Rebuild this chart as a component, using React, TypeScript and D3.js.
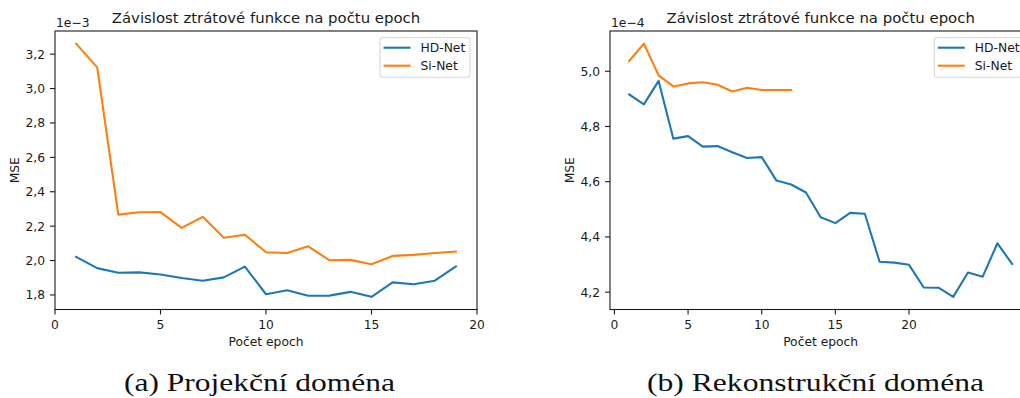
import React from "react";
import * as d3 from "d3";

// Epoch indices
const epochsProj = d3.range(1, 20);
const epochsRecoSi = d3.range(1, 13);
const epochsRecoHD = d3.range(1, 28);

// Projection domain MSE (×1e-3)
const projHD = [2.021, 1.956, 1.929, 1.931, 1.919, 1.899, 1.883, 1.902, 1.965, 1.804, 1.827, 1.795, 1.796, 1.818, 1.789, 1.873, 1.862, 1.883, 1.965];
const projSi = [3.261, 3.123, 2.267, 2.281, 2.282, 2.19, 2.254, 2.133, 2.15, 2.048, 2.044, 2.083, 2.002, 2.004, 1.979, 2.027, 2.033, 2.044, 2.052];

// Reconstruction domain MSE (×1e-4)
const recoHD = [4.916, 4.88, 4.965, 4.756, 4.765, 4.727, 4.729, 4.707, 4.686, 4.689, 4.604, 4.59, 4.561, 4.471, 4.45, 4.487, 4.484, 4.31, 4.307, 4.299, 4.217, 4.216, 4.183, 4.271, 4.256, 4.377, 4.302];
const recoSi = [5.037, 5.1, 4.985, 4.945, 4.956, 4.96, 4.951, 4.927, 4.94, 4.932, 4.932, 4.932];

const seriesNames = ["HD-Net", "Si-Net"];
const colors = ["#1f77b4", "#ff7f0e"];

const projYTicks = [1.8, 2.0, 2.2, 2.4, 2.6, 2.8, 3.0, 3.2];
const recoYTicks = [4.2, 4.4, 4.6, 4.8, 5.0];
const xTicks = [0, 5, 10, 15, 20];

const title = "Závislost ztrátové funkce na počtu epoch";
const xLabel = "Počet epoch";
const yLabel = "MSE";
const captions = ["(a) Projekční doména", "(b) Rekonstrukční doména"];

const SANS = "'DejaVu Sans', sans-serif";
const INK = "#1a1a1a";
const fmt = (v: number) => v.toFixed(1).replace(".", ",");

type Series = { xs: number[]; ys: number[] };

// Matplotlib-style autoscale: data extent plus 5% on each side
function padDomain(vals: number[]): [number, number] {
  const [lo, hi] = d3.extent(vals) as [number, number];
  const m = (hi - lo) * 0.05;
  return [lo - m, hi + m];
}

function Panel(props: {
  left: number;
  right: number;
  top: number;
  bottom: number;
  xDomain: [number, number];
  series: Series[];
  yTicks: number[];
  exponent: string;
  legendRight: number;
}) {
  const { left, right, top, bottom, xDomain, series, yTicks, exponent, legendRight } = props;
  const x = d3.scaleLinear().domain(xDomain).range([left, right]);
  const y = d3.scaleLinear().domain(padDomain(series.flatMap((s) => s.ys))).range([bottom, top]);
  const line = d3
    .line<[number, number]>()
    .x((d) => x(d[0]))
    .y((d) => y(d[1]));
  const cx = (left + right) / 2;
  const cy = (top + bottom) / 2;
  const tickLen = 5;
  const fs = 12.3;
  const lgLeft = legendRight - 90;
  return (
    <g>
      {series.map((s, i) => (
        <path
          key={i}
          d={line(s.xs.map((xv, j) => [xv, s.ys[j]] as [number, number])) || ""}
          fill="none"
          stroke={colors[i]}
          strokeWidth={2.1}
          strokeLinejoin="round"
          strokeLinecap="square"
        />
      ))}
      <rect x={left} y={top} width={right - left} height={bottom - top} fill="none" stroke={INK} strokeWidth={1.1} />
      {yTicks.map((t) => (
        <g key={t}>
          <line x1={left - tickLen} x2={left} y1={y(t)} y2={y(t)} stroke={INK} strokeWidth={1.1} />
          <text x={left - tickLen - 5} y={y(t)} dy="0.36em" textAnchor="end" fontFamily={SANS} fontSize={fs} fill={INK}>
            {fmt(t)}
          </text>
        </g>
      ))}
      {xTicks.map((t) => (
        <g key={t}>
          <line x1={x(t)} x2={x(t)} y1={bottom} y2={bottom + tickLen} stroke={INK} strokeWidth={1.1} />
          <text x={x(t)} y={bottom + 19} textAnchor="middle" fontFamily={SANS} fontSize={fs} fill={INK}>
            {t}
          </text>
        </g>
      ))}
      <text x={left + 1} y={top - 4.5} fontFamily={SANS} fontSize={fs} fill={INK}>
        {exponent}
      </text>
      <text x={cx} y={top - 7.7} textAnchor="middle" fontFamily={SANS} fontSize={14.9} fill={INK}>
        {title}
      </text>
      <text x={cx} y={bottom + 36} textAnchor="middle" fontFamily={SANS} fontSize={fs} fill={INK}>
        {xLabel}
      </text>
      <text
        transform={`translate(${left - 36},${cy}) rotate(-90)`}
        textAnchor="middle"
        fontFamily={SANS}
        fontSize={fs}
        fill={INK}
      >
        {yLabel}
      </text>
      <g>
        <rect x={lgLeft} y={top + 6.7} width={90} height={39.6} rx={2.5} fill="white" fillOpacity={0.8} stroke="#d6d6d6" strokeWidth={1.1} />
        {seriesNames.map((n, i) => (
          <g key={n}>
            <line x1={lgLeft + 3.5} x2={lgLeft + 30.5} y1={top + 16.7 + i * 18} y2={top + 16.7 + i * 18} stroke={colors[i]} strokeWidth={2.1} />
            <text x={lgLeft + 40.5} y={top + 16.7 + i * 18} dy="0.36em" fontFamily={SANS} fontSize={fs} fill={INK}>
              {n}
            </text>
          </g>
        ))}
      </g>
    </g>
  );
}

export default function App() {
  const top = 31;
  const bottom = 309.5;
  return (
    <svg
      width={1020}
      height={398}
      viewBox="0 0 1020 398"
      style={{ position: "absolute", left: 0, top: 0, background: "white" }}
    >
      <rect width={1020} height={398} fill="white" />
      <Panel
        left={55}
        right={477}
        top={top}
        bottom={bottom}
        xDomain={[0, 20]}
        series={[
          { xs: epochsProj, ys: projHD },
          { xs: epochsProj, ys: projSi },
        ]}
        yTicks={projYTicks}
        exponent="1e−3"
        legendRight={470}
      />
      <Panel
        left={610}
        right={1031.3}
        top={top}
        bottom={bottom}
        xDomain={[-0.3, 28.3]}
        series={[
          { xs: epochsRecoHD, ys: recoHD },
          { xs: epochsRecoSi, ys: recoSi },
        ]}
        yTicks={recoYTicks}
        exponent="1e−4"
        legendRight={1024.3}
      />
      <text x={259.5} y={391} textAnchor="middle" fontFamily="'Liberation Serif', serif" fontSize={26} textLength={271} lengthAdjust="spacingAndGlyphs" fill="#111">
        {captions[0]}
      </text>
      <text x={815.5} y={391} textAnchor="middle" fontFamily="'Liberation Serif', serif" fontSize={26} textLength={337} lengthAdjust="spacingAndGlyphs" fill="#111">
        {captions[1]}
      </text>
    </svg>
  );
}
